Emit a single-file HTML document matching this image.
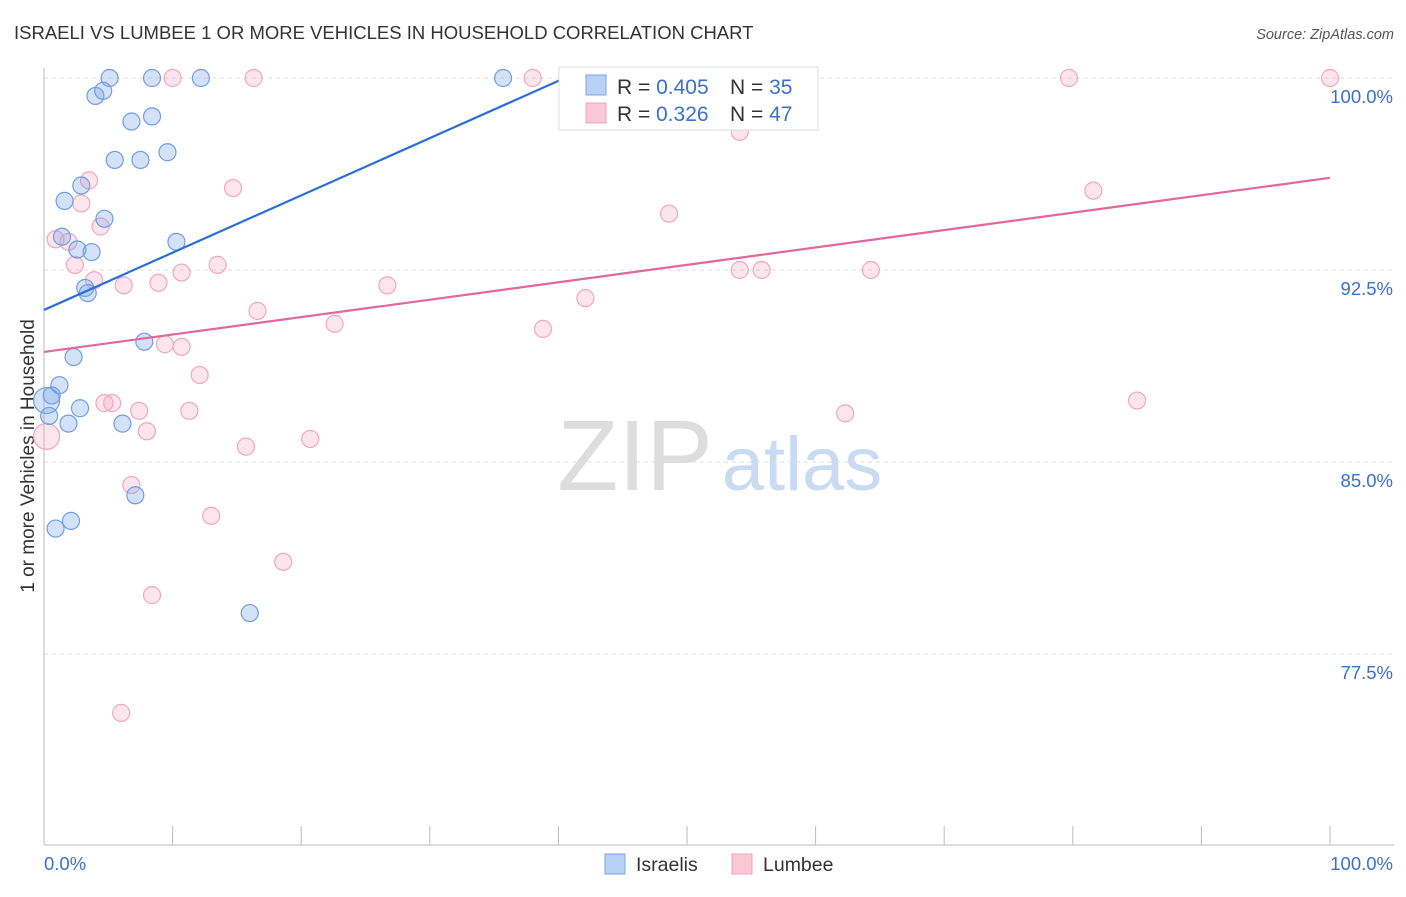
<!DOCTYPE html>
<html><head><meta charset="utf-8"><style>
body{margin:0;background:#fff;font-family:"Liberation Sans",sans-serif;}
svg text{font-family:"Liberation Sans",sans-serif;}
</style></head><body>
<svg width="1406" height="892" id="chart">
<text x="14" y="39" font-size="18.5" fill="#333">ISRAELI VS LUMBEE 1 OR MORE VEHICLES IN HOUSEHOLD CORRELATION CHART</text>
<text x="1394" y="39" font-size="14.5" fill="#555" text-anchor="end" font-style="italic">Source: ZipAtlas.com</text>
<text x="0" y="0" transform="translate(34,456) rotate(-90)" font-size="19" fill="#333" text-anchor="middle">1 or more Vehicles in Household</text>
<g><text x="635" y="490" font-size="100" fill="#ddd" text-anchor="middle" font-family="Liberation Serif, serif">ZIP</text><text x="802" y="490" font-size="76" fill="#c9daf3" text-anchor="middle">atlas</text></g>
<g id="grid"></g><g id="marks"></g>
<g>
<rect x="559" y="67" width="259" height="63" fill="#fff" stroke="#ddd"/>
<rect x="586" y="75" width="20" height="20" fill="#b7d2f5" stroke="#7aa6e6"/>
<rect x="586" y="103" width="20" height="20" fill="#f9c7d6" stroke="#f0a3bb"/>
<text x="617" y="94" font-size="21" fill="#333">R = <tspan fill="#3a70cc">0.405</tspan><tspan x="730">N = </tspan><tspan fill="#3a70cc">35</tspan></text>
<text x="617" y="121" font-size="21" fill="#333">R = <tspan fill="#3a70cc" x="656">0.326</tspan><tspan x="730">N = </tspan><tspan fill="#3a70cc">47</tspan></text>
</g>
<g>
<rect x="605" y="854" width="20" height="20" fill="#b7d2f5" stroke="#7aa6e6"/><text x="636" y="871" font-size="19.5" fill="#333">Israelis</text>
<rect x="732" y="854" width="20" height="20" fill="#f9c7d6" stroke="#f0a3bb"/><text x="763" y="871" font-size="19.5" fill="#333">Lumbee</text>
</g>
<text x="44" y="870" font-size="18.5" fill="#3a70cc">0.0%</text>
<text x="1393" y="870" font-size="18.5" fill="#3a70cc" text-anchor="end">100.0%</text>
</svg>
<script>
const yTicks=[100,92.5,85,77.5];
const yTickLabels=["100.0%","92.5%","85.0%","77.5%"];
const israeliX=[5.1,8.4,12.2,35.7,43.5,45.6,4.0,4.6,6.8,8.4,5.5,7.5,9.6,2.9,1.6,4.7,1.4,2.6,3.7,10.3,3.2,3.4,7.8,2.3,1.2,0.6,0.2,2.8,0.4,1.9,6.1,7.1,2.1,0.9,16.0];
const israeliY=[100,100,100,100,100,100,99.3,99.5,98.3,98.5,96.8,96.8,97.1,95.8,95.2,94.5,93.8,93.3,93.2,93.6,91.8,91.6,89.7,89.1,88.0,87.6,87.4,87.1,86.8,86.5,86.5,83.7,82.7,82.4,79.1];
const israeliBig=[26];
const lumbeeX=[10.0,16.3,38.0,79.7,100,54.1,3.5,14.7,2.9,48.6,81.6,0.9,1.9,4.4,2.4,3.9,6.2,8.9,10.7,13.5,26.7,42.1,16.6,22.6,38.8,9.4,10.7,12.1,54.1,55.8,64.3,4.7,5.3,7.4,11.3,8.0,15.7,20.7,62.3,85.0,0.2,6.8,13.0,18.6,8.4,6.0];
const lumbeeY=[100,100,100,100,100,97.9,96.0,95.7,95.1,94.7,95.6,93.7,93.6,94.2,92.7,92.1,91.9,92.0,92.4,92.7,91.9,91.4,90.9,90.4,90.2,89.6,89.5,88.4,92.5,92.5,92.5,87.3,87.3,87.0,87.0,86.2,85.6,85.9,86.9,87.4,86.0,84.1,82.9,81.1,79.8,75.2];
const lumbeeBig=[40];
const israeliTrend=[[0,90.94],[40.5,100]];
const lumbeeTrend=[[0,89.3],[100,96.1]];
const NS='http://www.w3.org/2000/svg';
const sx=v=>44+v*12.86, sy=v=>78+(100-v)*25.6;
function mk(t,a,p){const e=document.createElementNS(NS,t);for(const k in a)e.setAttribute(k,a[k]);p.appendChild(e);return e;}
const g=document.getElementById('grid'), m=document.getElementById('marks');
yTicks.forEach((t,i)=>{
 const l=mk('line',{x1:44,x2:1394,y1:sy(t),y2:sy(t),stroke:'#ddd','stroke-dasharray':'4,4'},g);
 
 
 const tx=mk('text',{x:1393,y:sy(t)+25,'font-size':18.5,fill:'#3a70cc','text-anchor':'end'},g);
 tx.textContent=yTickLabels[i];
 
 
});
const ax=mk('line',{x1:44,x2:1394,y1:845,y2:845,stroke:'#bbb'},g);


const ay=mk('line',{x1:44,x2:44,y1:68,y2:845,stroke:'#bbb'},g);


for(let i=0;i<=10;i++){const t=mk('line',{x1:sx(i*10),x2:sx(i*10),y1:826,y2:845,stroke:'#bbb'},g);
 
 }
function pts(X,Y,big,fill,stroke,name){X.forEach((x,i)=>{const b=big.includes(i);const c=mk('circle',{cx:sx(x),cy:sy(Y[i]),r:b?13:8.5,fill:fill,stroke:stroke,'stroke-width':1.2},m);
 
 });}
pts(lumbeeX,lumbeeY,lumbeeBig,'rgba(245,160,190,0.28)','#f0a7bf','lumbee-point');
pts(israeliX,israeliY,israeliBig,'rgba(120,165,235,0.32)','#6f9de2','israeli-point');
const t1=mk('line',{x1:sx(israeliTrend[0][0]),y1:sy(israeliTrend[0][1]),x2:sx(israeliTrend[1][0]),y2:sy(israeliTrend[1][1]),stroke:'#2a6fd8','stroke-width':2.2},m);


const t2=mk('line',{x1:sx(lumbeeTrend[0][0]),y1:sy(lumbeeTrend[0][1]),x2:sx(lumbeeTrend[1][0]),y2:sy(lumbeeTrend[1][1]),stroke:'#e2679a','stroke-width':2.2},m);


</script>
</body></html>
